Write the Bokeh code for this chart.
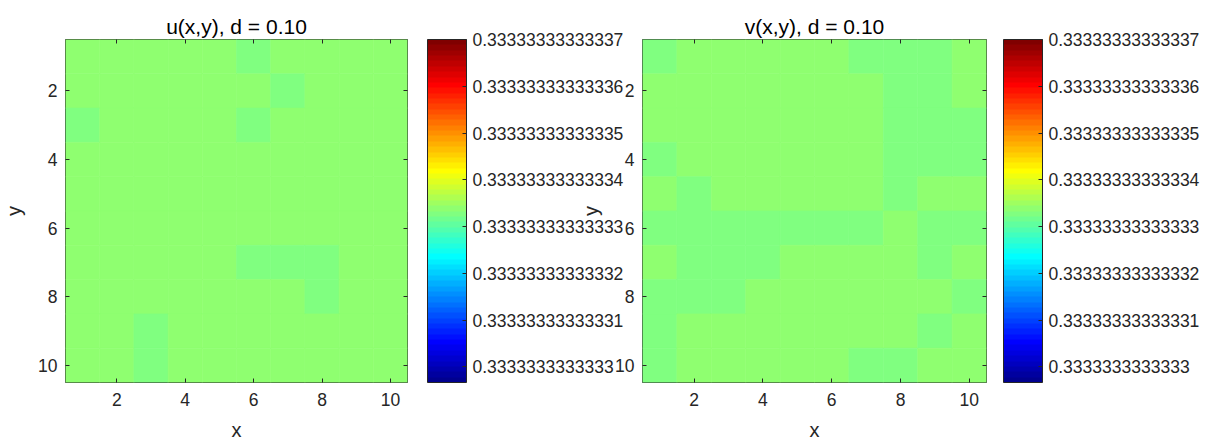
import numpy as np
from bokeh.plotting import figure
from bokeh.models import (LinearColorMapper, ColorBar, FixedTicker, LinearAxis,
                          Range1d, ColumnDataSource)
from bokeh.layouts import row
from bokeh.embed import file_html
from bokeh.resources import INLINE

# ---------------- data ----------------
hi = 0.3333333333333337   # slightly larger value (yellow-green cells)
lo = 0.3333333333333331   # slightly smaller value (green cells)

X_VALS = list(range(1, 11))
Y_VALS = list(range(1, 11))

# rows are y = 1..10, columns are x = 1..10
U = [
    [hi, hi, hi, hi, hi, lo, hi, hi, hi, hi],
    [hi, hi, hi, hi, hi, hi, lo, hi, hi, hi],
    [lo, hi, hi, hi, hi, lo, hi, hi, hi, hi],
    [hi, hi, hi, hi, hi, hi, hi, hi, hi, hi],
    [hi, hi, hi, hi, hi, hi, hi, hi, hi, hi],
    [hi, hi, hi, hi, hi, hi, hi, hi, hi, hi],
    [hi, hi, hi, hi, hi, lo, lo, lo, hi, hi],
    [hi, hi, hi, hi, hi, hi, hi, lo, hi, hi],
    [hi, hi, lo, hi, hi, hi, hi, hi, hi, hi],
    [hi, hi, lo, hi, hi, hi, hi, hi, hi, hi],
]
V = [
    [lo, hi, hi, hi, hi, hi, lo, lo, lo, hi],
    [hi, hi, hi, hi, hi, hi, hi, lo, lo, hi],
    [hi, hi, hi, hi, hi, hi, hi, lo, lo, lo],
    [lo, hi, hi, hi, hi, hi, hi, lo, lo, lo],
    [hi, lo, hi, hi, hi, hi, hi, lo, hi, hi],
    [lo, lo, lo, lo, lo, lo, lo, hi, lo, lo],
    [hi, lo, lo, lo, hi, hi, hi, hi, lo, hi],
    [lo, lo, lo, hi, hi, hi, hi, hi, hi, lo],
    [lo, hi, hi, hi, hi, hi, hi, hi, lo, hi],
    [lo, hi, hi, hi, hi, hi, lo, lo, hi, hi],
]

TITLES = ["u(x,y), d = 0.10", "v(x,y), d = 0.10"]
AXIS_TICKS = [2, 4, 6, 8, 10]

# colour bar ticks (value = TICK_BASE + i * TICK_STEP)
TICK_BASE = 0.3333333333333
TICK_STEP = 1e-14
CBAR_TICK_LABELS = ["0.3333333333333", "0.33333333333331", "0.33333333333332",
                    "0.33333333333333", "0.33333333333334", "0.33333333333335",
                    "0.33333333333336", "0.33333333333337"]
CLIM = (0.33333333333329666, 0.33333333333337)

# ---------------- style ----------------
FONT = "Liberation Sans"
DARK = "#262626"
TICK_FS = "17.5px"


def jet(m=64):
    n = int(np.ceil(m / 4))
    u = np.concatenate([np.arange(1, n + 1) / n, np.ones(n - 1), np.arange(n, 0, -1) / n])
    g = int(np.ceil(n / 2)) - (1 if m % 4 == 1 else 0) + np.arange(1, len(u) + 1)
    r = g + n
    b = g - n
    J = np.zeros((m, 3))
    for ch, idx in ((0, r), (1, g), (2, b)):
        for i, val in zip(idx, u):
            if 1 <= i <= m:
                J[i - 1, ch] = val
    return ["#%02x%02x%02x" % tuple(int(round(c * 255)) for c in rowc) for rowc in J]


PALETTE = jet(64)


def to_units(v):
    return round((v - TICK_BASE) / TICK_STEP, 3)


mapper = LinearColorMapper(palette=PALETTE, low=to_units(CLIM[0]),
                           high=to_units(CLIM[1]) + 0.005)


def make_panel(title, grid, frame_w, gap):
    xs, ys, ks = [], [], []
    for j, yv in enumerate(Y_VALS):
        for i, xv in enumerate(X_VALS):
            xs.append(xv)
            ys.append(yv)
            ks.append(to_units(grid[j][i]))
    src = ColumnDataSource(dict(x=xs, y=ys, k=ks))

    p = figure(output_backend="svg", toolbar_location=None,
               frame_width=frame_w, frame_height=343,
               x_range=Range1d(0.5, 10.5), y_range=Range1d(10.5, 0.5),
               min_border_left=63, min_border_top=39, min_border_bottom=60,
               min_border_right=0, title=title)
    p.rect(x="x", y="y", width=1, height=1, source=src,
           fill_color={"field": "k", "transform": mapper},
           line_color={"field": "k", "transform": mapper}, line_width=0.6)

    p.grid.visible = False
    p.outline_line_color = DARK
    p.outline_line_width = 1
    p.background_fill_color = "white"

    p.title.text_font = FONT
    p.title.text_font_size = "21px"
    p.title.text_font_style = "normal"
    p.title.text_color = "#000000"
    p.title.align = "center"
    p.title.standoff = 4

    for ax in (p.xaxis[0], p.yaxis[0]):
        ax.ticker = FixedTicker(ticks=AXIS_TICKS)
        ax.major_tick_in = 4
        ax.major_tick_out = 0
        ax.minor_tick_line_color = None
        ax.axis_line_color = None
        ax.major_tick_line_color = DARK
        ax.major_label_text_font = FONT
        ax.major_label_text_font_size = TICK_FS
        ax.major_label_text_color = DARK
        ax.axis_label_text_font = FONT
        ax.axis_label_text_font_size = "20px"
        ax.axis_label_text_font_style = "normal"
        ax.axis_label_text_color = DARK
    p.xaxis.axis_label = "x"
    p.yaxis.axis_label = "y"
    p.xaxis.major_label_standoff = 10
    p.xaxis.axis_label_standoff = 10
    p.yaxis.major_label_standoff = 8
    p.yaxis.axis_label_standoff = 10

    # tick marks on the top and right edges (box)
    for side in ("above", "right"):
        ax = LinearAxis(ticker=FixedTicker(ticks=AXIS_TICKS),
                        major_tick_in=4, major_tick_out=0,
                        minor_tick_line_color=None, axis_line_color=None,
                        major_tick_line_color=DARK,
                        major_label_text_font_size="0px",
                        major_label_text_color=None,
                        major_label_standoff=0)
        p.add_layout(ax, side)

    # invisible spacer axis: leaves a gap between the frame and the colour bar
    spacer = LinearAxis(ticker=FixedTicker(ticks=AXIS_TICKS),
                        major_tick_in=0, major_tick_out=gap,
                        minor_tick_line_color=None, axis_line_color=None,
                        major_tick_line_color=None,
                        major_label_text_font_size="0px",
                        major_label_text_color=None,
                        major_label_standoff=0)
    p.add_layout(spacer, "right")

    cb = ColorBar(color_mapper=mapper,
                  ticker=FixedTicker(ticks=list(range(len(CBAR_TICK_LABELS)))),
                  major_label_overrides={i: s for i, s in enumerate(CBAR_TICK_LABELS)},
                  width=39, height=343, padding=0, margin=0,
                  label_standoff=6, major_tick_in=4, major_tick_out=0,
                  major_tick_line_color=DARK, minor_tick_line_color=None,
                  bar_line_color=DARK, border_line_color=None,
                  background_fill_alpha=0,
                  major_label_text_font=FONT,
                  major_label_text_font_size=TICK_FS,
                  major_label_text_color=DARK,
                  location="top_left")
    p.add_layout(cb, "right")
    return p


p1 = make_panel(TITLES[0], U, 342, 20)
p2 = make_panel(TITLES[1], V, 344, 17)
p2.border_fill_color = None
p2.margin = (0, 0, 0, -49)

layout = row(p1, p2)
layout.margin = 0

open("out.html", "w").write(file_html(layout, INLINE))
